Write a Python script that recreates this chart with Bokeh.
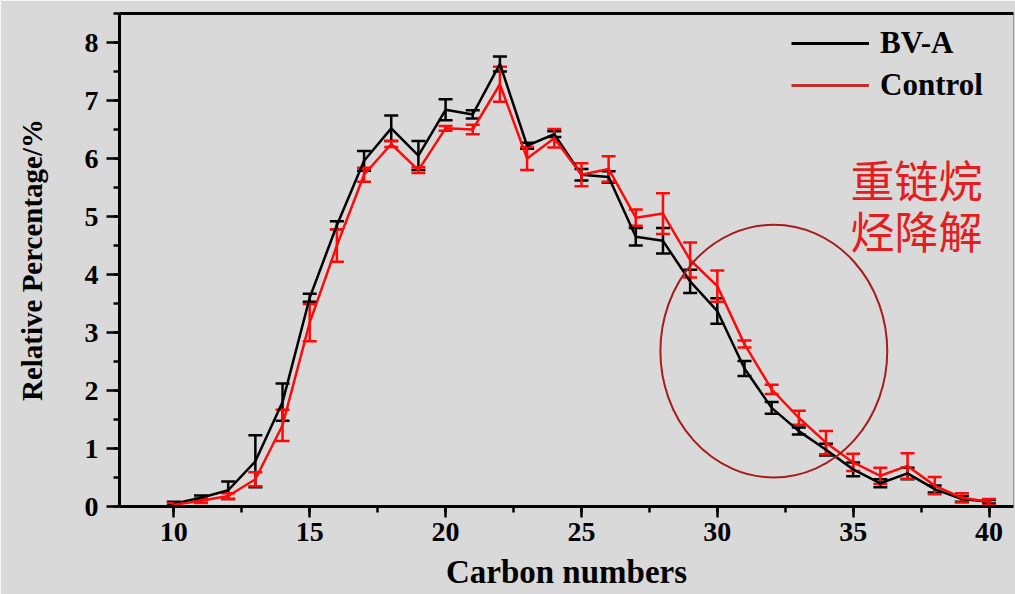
from bokeh.plotting import figure
from bokeh.models import (ColumnDataSource, Whisker, TeeHead, Legend, LegendItem,
                          LinearAxis, SingleIntervalTicker, Range1d)
from bokeh.core.properties import value
from bokeh.embed import file_html
from bokeh.resources import INLINE

carbon = list(range(10, 41))
bva = [0.05, 0.15, 0.28, 0.78, 1.80, 3.60, 4.85, 5.96, 6.52, 6.05, 6.84, 6.76, 7.63,
       6.22, 6.42, 5.72, 5.68, 4.65, 4.58, 3.88, 3.37, 2.38, 1.70, 1.30, 0.98, 0.64,
       0.40, 0.57, 0.30, 0.13, 0.08]
bva_err = [0.03, 0.04, 0.15, 0.45, 0.32, 0.07, 0.07, 0.17, 0.22, 0.25, 0.18, 0.07, 0.13,
           0.05, 0.05, 0.10, 0.10, 0.15, 0.22, 0.20, 0.22, 0.13, 0.10, 0.06, 0.10, 0.12,
           0.07, 0.10, 0.06, 0.05, 0.03]
control = [0.03, 0.10, 0.18, 0.47, 1.40, 3.17, 4.50, 5.72, 6.25, 5.80, 6.52, 6.50, 7.28,
           6.00, 6.35, 5.72, 5.82, 4.98, 5.05, 4.25, 3.80, 2.80, 2.02, 1.53, 1.10, 0.76,
           0.53, 0.70, 0.36, 0.15, 0.08]
control_err = [0.03, 0.04, 0.05, 0.12, 0.27, 0.32, 0.28, 0.12, 0.05, 0.05, 0.04, 0.08, 0.30,
               0.20, 0.16, 0.20, 0.22, 0.14, 0.35, 0.30, 0.27, 0.06, 0.08, 0.12, 0.20, 0.15,
               0.14, 0.22, 0.15, 0.08, 0.05]
series_names = ["BV-A", "Control"]
x_label = "Carbon numbers"
y_label = "Relative Percentage/%"
anno_lines = ["重链烷", "烃降解"]
anno_x = [34.9, 34.9]
anno_y = [5.65, 4.77]
circle_x, circle_y, circle_w, circle_h = 32.08, 2.68, 8.35, 4.36

BG = "#d9d9d9"
SERIF = "Liberation Serif"
NAN = float("nan")

p = figure(width=1015, height=594, output_backend="svg", toolbar_location=None,
           x_range=Range1d(8, 40.9), y_range=Range1d(0, 8.5),
           min_border_left=119, min_border_right=2, min_border_top=13, min_border_bottom=88)
p.background_fill_color = BG
p.border_fill_color = BG
p.outline_line_color = "#9a9a9a"
p.outline_line_width = 1
p.xgrid.visible = False
p.ygrid.visible = False

def style_axis(ax, major_out, minor_out):
    ax.axis_line_width = 3
    ax.axis_line_color = "black"
    ax.major_tick_line_width = 2.5
    ax.minor_tick_line_width = 2.5
    ax.major_tick_out = major_out
    ax.major_tick_in = 0
    ax.minor_tick_out = minor_out
    ax.minor_tick_in = 0
    ax.major_label_text_font = SERIF
    ax.major_label_text_font_style = "bold"
    ax.major_label_text_font_size = "28px"
    ax.major_label_text_color = "black"
    ax.axis_label_text_font = SERIF
    ax.axis_label_text_font_style = "bold"
    ax.axis_label_text_color = "black"

xa = p.xaxis[0]
xa.ticker = SingleIntervalTicker(interval=5, num_minor_ticks=2)
style_axis(xa, 11, 6)
xa.axis_label = x_label
xa.axis_label_text_font_size = "33px"
xa.major_label_standoff = 5
xa.axis_label_standoff = 10

ya = p.yaxis[0]
ya.ticker = SingleIntervalTicker(interval=1, num_minor_ticks=2)
style_axis(ya, 13, 6)
ya.axis_label = y_label
ya.axis_label_text_font_size = "29px"
ya.major_label_standoff = 8
ya.axis_label_standoff = 34

top = LinearAxis(ticker=SingleIntervalTicker(interval=1000), major_tick_out=0, major_tick_in=0,
                 minor_tick_out=0, minor_tick_in=0, major_label_text_font_size="0px",
                 axis_line_width=3, axis_line_color="black")
p.add_layout(top, "above")

src_b = ColumnDataSource(dict(x=carbon, y=bva,
                              lo=[v - e for v, e in zip(bva, bva_err)],
                              hi=[v + e for v, e in zip(bva, bva_err)]))
src_c = ColumnDataSource(dict(x=carbon, y=control,
                              lo=[v - e for v, e in zip(control, control_err)],
                              hi=[v + e for v, e in zip(control, control_err)]))

BLACK = "#000000"
RED = "#ff0a0a"

lb = p.line("x", "y", source=src_b, line_color=BLACK, line_width=2.5)
wb = Whisker(base="x", lower="lo", upper="hi", source=src_b, line_color=BLACK, line_width=2.5,
             upper_head=TeeHead(size=14, line_color=BLACK, line_width=2.5),
             lower_head=TeeHead(size=14, line_color=BLACK, line_width=2.5))
p.add_layout(wb)

lc = p.line("x", "y", source=src_c, line_color=RED, line_width=2.5)
wc = Whisker(base="x", lower="lo", upper="hi", source=src_c, line_color=RED, line_width=2.5,
             upper_head=TeeHead(size=14, line_color=RED, line_width=2.5),
             lower_head=TeeHead(size=14, line_color=RED, line_width=2.5))
p.add_layout(wc)

# legend proxies (no visible data)
gb = p.line(x=[NAN, NAN], y=[NAN, NAN], line_color=BLACK, line_width=3)
gc = p.line(x=[NAN, NAN], y=[NAN, NAN], line_color="#c0302f", line_width=3)
legend = Legend(items=[LegendItem(label=series_names[0], renderers=[gb]),
                       LegendItem(label=series_names[1], renderers=[gc])],
                location=(672, 403))
legend.background_fill_alpha = 0
legend.border_line_color = None
legend.label_text_font = SERIF
legend.label_text_font_style = "bold"
legend.label_text_font_size = "31px"
legend.label_text_color = "black"
legend.glyph_width = 78
legend.glyph_height = 30
legend.label_height = 30
legend.label_standoff = 11
legend.spacing = 6
legend.padding = 5
legend.margin = 0
p.add_layout(legend)

p.ellipse(x=circle_x, y=circle_y, width=circle_w, height=circle_h, fill_color=None,
          line_color="#a61c1c", line_width=2)

p.text(x=anno_x, y=anno_y, text=anno_lines, text_font=value("Noto Sans CJK SC"),
       text_font_size="44px", text_color="#e41e1e", text_baseline="middle", text_align="left")

open("out.html", "w").write(file_html(p, INLINE))
